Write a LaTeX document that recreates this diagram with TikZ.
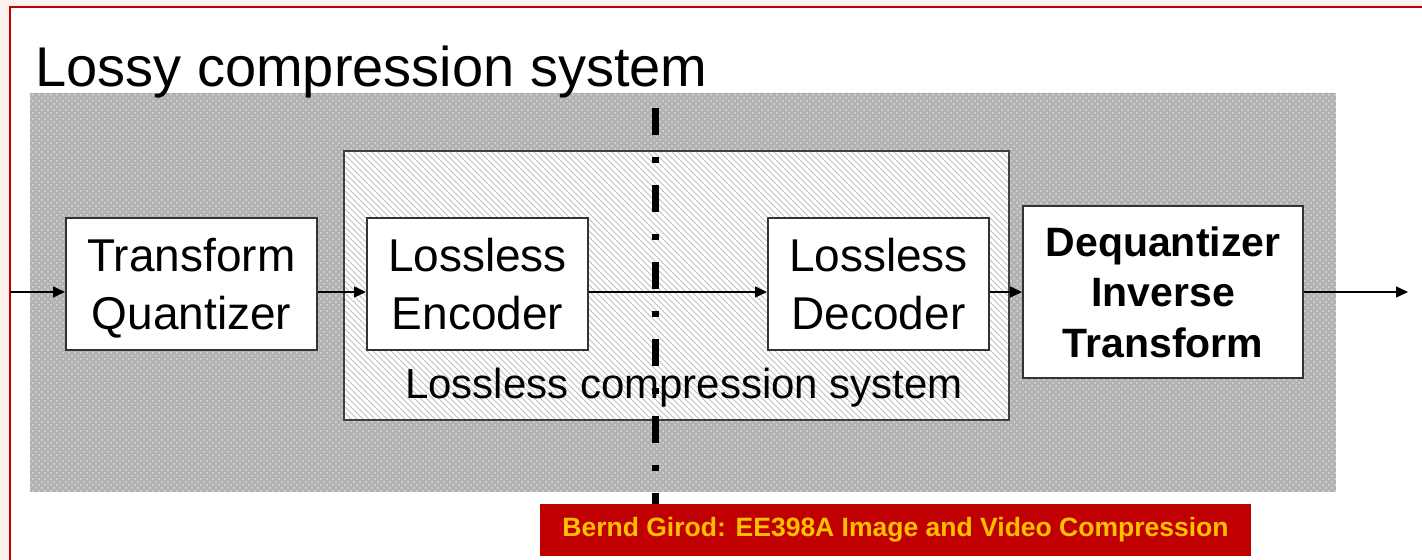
\documentclass[tikz,border=0pt]{standalone}
\usepackage{fontspec}
\setmainfont{Liberation Sans}
\usepackage{xcolor}
\usetikzlibrary{arrows.meta, patterns, positioning}
\definecolor{slidered}{RGB}{192,0,0}
\definecolor{slidepink}{RGB}{253,241,237}
\definecolor{bannertext}{RGB}{255,192,0}
\definecolor{lossygray}{RGB}{178,178,178}

\begin{document}
\begin{tikzpicture}[x=0.5pt, y=-0.5pt,
        block/.style={draw=black!80, line width=1pt, fill=white, align=center, inner sep=0pt, text depth=0pt, font=\fontsize{23}{29}\selectfont},
        flow/.style={-{Triangle[length=6pt, width=5.5pt]}, line width=0.75pt},
        caption/.style={inner sep=0pt, anchor=base}
    ]

    \useasboundingbox (0,0) rectangle (1422,560);

    % 页面
    \fill[slidepink] (0,0) rectangle (1422,560);
    \fill[white] (10,7) rectangle (1422,560);
    \draw[slidered, line width=1pt] (10,560) -- (10,7) -- (1422,7);

    % 有损区域
    \fill[lossygray] (30,93) rectangle (1336,492);
    \fill[pattern=crosshatch dots, pattern color=white!55!lossygray] (30,93) rectangle (1336,492);
    \node[caption, anchor=base west, font=\fontsize{28}{34}\selectfont] (lossy) at (35,87) {Lossy compression system};

    % 无损区域
    \node[draw=black!75, line width=1pt, pattern=north west lines, pattern color=gray!50, preaction={fill=white},
        minimum width=332.5pt, minimum height=134.5pt, inner sep=0pt] (lossless) at (676.5,285.5) {};
    \node[caption, font=\fontsize{21}{25}\selectfont] (losslesstext) at (684,399) {Lossless compression system};

    % 方框
    \node[block, minimum width=125.5pt, minimum height=66pt] (tq) at (191.5,284) {Transform\\Quantizer};
    \node[block, minimum width=110.5pt, minimum height=66pt] (enc) at (477.5,284) {Lossless\\Encoder};
    \node[block, minimum width=110.5pt, minimum height=66pt] (dec) at (878.5,284) {Lossless\\Decoder};
    \node[block, minimum width=140pt, minimum height=86pt, font=\bfseries\fontsize{20.5}{25.3}\selectfont] (deq) at (1163,292) {Dequantizer\\Inverse\\Transform};

    % 分界线
    \coordinate (cuttop) at (655.5,108);
    \coordinate (cutbot) at (655.5,504);
    \draw[line width=3.5pt, dash pattern=on 13.5pt off 11pt on 3pt off 11pt] (cuttop) -- (cutbot);

    % 信号流
    \coordinate (in) at (10,292);
    \coordinate (out) at (1408,292);
    \draw[flow] (in) -- (in -| tq.west);
    \draw[flow] (tq.east |- in) -- (enc.west |- in);
    \draw[flow] (enc.east |- in) -- (dec.west |- in);
    \draw[flow] (dec.east |- in) -- (deq.west |- in);
    \draw[flow] (deq.east |- in) -- (out);

    % 页脚
    \node[fill=slidered, minimum width=355.5pt, minimum height=26pt, inner sep=0pt, text=bannertext,
        font=\bfseries\fontsize{13.25}{16}\selectfont] (footer) at (895.5,530) {Bernd Girod: EE398A Image and Video Compression};

    \end{tikzpicture}
\end{document}
